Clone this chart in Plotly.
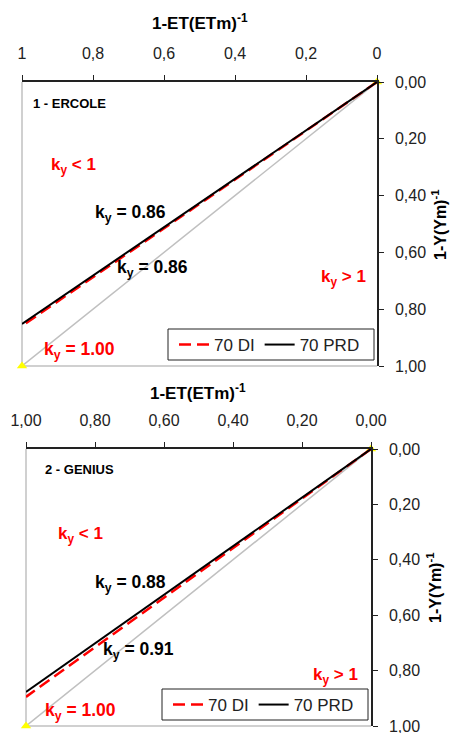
import plotly.graph_objects as go

W, H = 450, 740   # page viewport is 733 high; the extra rows keep the last tick label drawn

# ---- data ----
et_x = [0.0, 1.0]                 # 1-ET(ETm)^-1
ercole_di = [0.0, 0.859]          # 70 DI
ercole_prd = [0.0, 0.852]         # 70 PRD
genius_di = [0.0, 0.895]
genius_prd = [0.0, 0.877]
ref_y = [0.0, 1.0]                # ky = 1.00

top_xticks = [1, 0.8, 0.6, 0.4, 0.2, 0]
top_xlabels = ["1", "0,8", "0,6", "0,4", "0,2", "0"]
bot_xticks = [1, 0.8, 0.6, 0.4, 0.2, 0]
bot_xlabels = ["1,00", "0,80", "0,60", "0,40", "0,20", "0,00"]
yticks = [0, 0.2, 0.4, 0.6, 0.8, 1.0]
ylabels = ["0,00", "0,20", "0,40", "0,60", "0,80", "1,00"]


def px(x):
    return x / W


def py(y):
    return 1 - y / H


FONT = "Liberation Sans, Arial, sans-serif"
RED = "#ff0000"
GRAY = "#c0c0c0"

fig = go.Figure()


def add_panel(xa, ya, di, prd, legend):
    fig.add_trace(go.Scatter(x=et_x, y=ref_y, xaxis=xa, yaxis=ya, mode="lines+markers",
                             line=dict(color=GRAY, width=1.5),
                             marker=dict(symbol="triangle-up", size=9, color="#ffff00"),
                             cliponaxis=False, showlegend=False))
    fig.add_trace(go.Scatter(x=et_x, y=di, xaxis=xa, yaxis=ya, mode="lines", name="70 DI",
                             line=dict(color=RED, width=2.5, dash="12px,6px"), legend=legend))
    fig.add_trace(go.Scatter(x=et_x, y=prd, xaxis=xa, yaxis=ya, mode="lines", name="70 PRD",
                             line=dict(color="black", width=2), legend=legend))


add_panel("x", "y", ercole_di, ercole_prd, "legend")
add_panel("x2", "y2", genius_di, genius_prd, "legend2")

axis_common = dict(showgrid=False, zeroline=False, showline=True, linecolor="#222",
                   linewidth=1.5, ticks="outside", ticklen=5, tickcolor="#222",
                   automargin=False,
                   tickfont=dict(family=FONT, size=16, color="#222"), fixedrange=True)

legend_common = dict(orientation="h", xanchor="left", yanchor="middle",
                     borderwidth=0, bgcolor="rgba(0,0,0,0)",
                     font=dict(family=FONT, size=17, color="#222"))

fig.update_layout(
    width=W, height=H, margin=dict(l=0, r=0, t=0, b=0, autoexpand=False),
    paper_bgcolor="white", plot_bgcolor="white",
    xaxis=dict(domain=[px(22), px(377)], range=[1, 0], side="top", anchor="y",
               tickvals=top_xticks, ticktext=top_xlabels, ticklabelstandoff=10, **axis_common),
    yaxis=dict(domain=[py(366), py(82)], range=[1, 0], side="right", anchor="x",
               tickvals=yticks, ticktext=ylabels, ticklabelstandoff=8, **axis_common),
    xaxis2=dict(domain=[px(26), px(371)], range=[1, 0], side="top", anchor="y2",
                tickvals=bot_xticks, ticktext=bot_xlabels, ticklabelstandoff=10, **axis_common),
    yaxis2=dict(domain=[py(726), py(449)], range=[1, 0], side="right", anchor="x2",
                tickvals=yticks, ticktext=ylabels, ticklabelstandoff=8, **axis_common),
    legend=dict(x=px(174), y=py(345), **legend_common),
    legend2=dict(x=px(168), y=py(705), **legend_common),
    showlegend=True,
)

# gray left and bottom frame lines
for xr, yr in (("x domain", "y domain"), ("x2 domain", "y2 domain")):
    fig.add_shape(type="line", xref=xr, yref=yr, x0=0, x1=0, y0=0, y1=1,
                  line=dict(color=GRAY, width=1.5), layer="below")
    fig.add_shape(type="line", xref=xr, yref=yr, x0=0, x1=1, y0=0, y1=0,
                  line=dict(color=GRAY, width=1.5), layer="below")

# legend frames
for x0, x1, y0, y1 in ((168, 374, 329, 360), (162, 368, 689, 720)):
    fig.add_shape(type="rect", xref="paper", yref="paper",
                  x0=px(x0), x1=px(x1), y0=py(y1), y1=py(y0),
                  line=dict(color="#222", width=1), fillcolor="white", layer="below")


def ann(text, x, y, size=17, color="black", bold=True, angle=0, xanchor="left"):
    t = f"<b>{text}</b>" if bold else text
    fig.add_annotation(text=t, x=px(x), y=py(y), xref="paper", yref="paper",
                       xanchor=xanchor, yanchor="middle", showarrow=False, textangle=angle,
                       font=dict(family=FONT, size=size, color=color))


# axis titles
ann("1-ET(ETm)<sup>-1</sup>", 200, 22, xanchor="center")
ann("1-ET(ETm)<sup>-1</sup>", 198, 392, xanchor="center")
ann("1-Y(Ym)<sup>-1</sup>", 439, 225, size=16, angle=-90, xanchor="center")
ann("1-Y(Ym)<sup>-1</sup>", 434, 588, size=16, angle=-90, xanchor="center")

# panel 1 labels
ann("1 - ERCOLE", 31, 103, size=13)
ann("k<sub>y</sub> &lt; 1", 49, 166, color=RED)
ann("k<sub>y</sub> = 0.86", 93, 214, size=17.5)
ann("k<sub>y</sub> = 0.86", 115, 268, size=17.5)
ann("k<sub>y</sub> &gt; 1", 319, 278, color=RED)
ann("k<sub>y</sub> = 1.00", 42, 350, color=RED, size=17.5)

# panel 2 labels
ann("2 - GENIUS", 43, 469, size=13)
ann("k<sub>y</sub> &lt; 1", 56, 535, color=RED)
ann("k<sub>y</sub> = 0.88", 93, 583, size=17.5)
ann("k<sub>y</sub> = 0.91", 101, 650, size=17.5)
ann("k<sub>y</sub> &gt; 1", 311, 676, color=RED)
ann("k<sub>y</sub> = 1.00", 43, 711, color=RED, size=17.5)

fig.write_html("out.html", config={"displayModeBar": False},
               post_script="document.body.style.margin='0';document.body.style.overflow='hidden';")
